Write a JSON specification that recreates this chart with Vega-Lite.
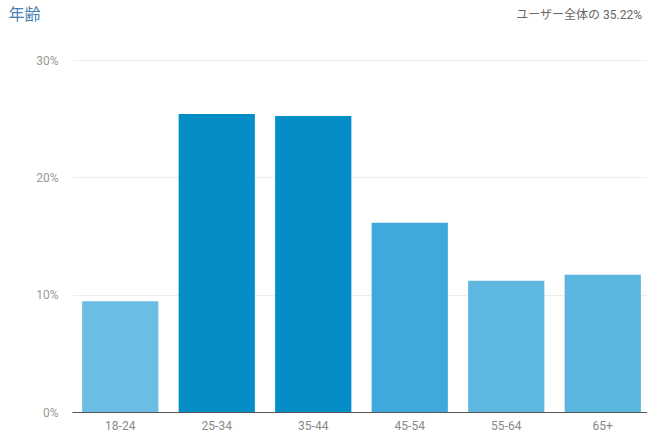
{
  "$schema": "https://vega.github.io/schema/vega-lite/v6.json",
  "autosize": "none",
  "width": 579,
  "height": 352,
  "padding": {"left": 72, "top": 60, "right": 0, "bottom": 25},
  "background": "white",
  "config": {
    "font": "Roboto, Noto Sans CJK JP",
    "view": {"stroke": null}
  },
  "title": {
    "text": "ユーザー全体の 35.22%",
    "anchor": "end",
    "dx": -9,
    "offset": -16,
    "fontSize": 12,
    "fontWeight": "normal",
    "color": "#666666",
    "font": "Roboto, Noto Sans CJK JP"
  },
  "data": {
    "values": [
      {"age": "18-24", "share": 0.0943},
      {"age": "25-34", "share": 0.2540},
      {"age": "35-44", "share": 0.2523},
      {"age": "45-54", "share": 0.1613},
      {"age": "55-64", "share": 0.1119},
      {"age": "65+", "share": 0.1170}
    ]
  },
  "mark": {"type": "bar"},
  "encoding": {
    "x": {
      "field": "age",
      "type": "nominal",
      "sort": null,
      "scale": {"paddingInner": 0.21, "paddingOuter": 0.105},
      "axis": {
        "title": null,
        "labelAngle": 0,
        "ticks": false,
        "domainColor": "#555555",
        "labelColor": "#888888",
        "labelFontSize": 12,
        "labelPadding": 8
      }
    },
    "y": {
      "field": "share",
      "type": "quantitative",
      "scale": {"domain": [0, 0.3]},
      "axis": {
        "title": "年齢",
        "titleAngle": 0,
        "titleX": -64,
        "titleY": -46,
        "titleAlign": "left",
        "titleBaseline": "middle",
        "titleColor": "#4a7fb5",
        "titleFontSize": 16,
        "titleFontWeight": "normal",
        "values": [0, 0.1, 0.2, 0.3],
        "format": "%",
        "domain": false,
        "ticks": false,
        "gridColor": "#eeeeee",
        "labelColor": "#999999",
        "labelFontSize": 12,
        "labelPadding": 14
      }
    },
    "color": {
      "field": "age",
      "type": "nominal",
      "legend": null,
      "scale": {
        "domain": ["18-24", "25-34", "35-44", "45-54", "55-64", "65+"],
        "range": ["#6bbde3", "#058dc7", "#058dc7", "#3fa9db", "#5db7e0", "#5ab5df"]
      }
    }
  }
}
